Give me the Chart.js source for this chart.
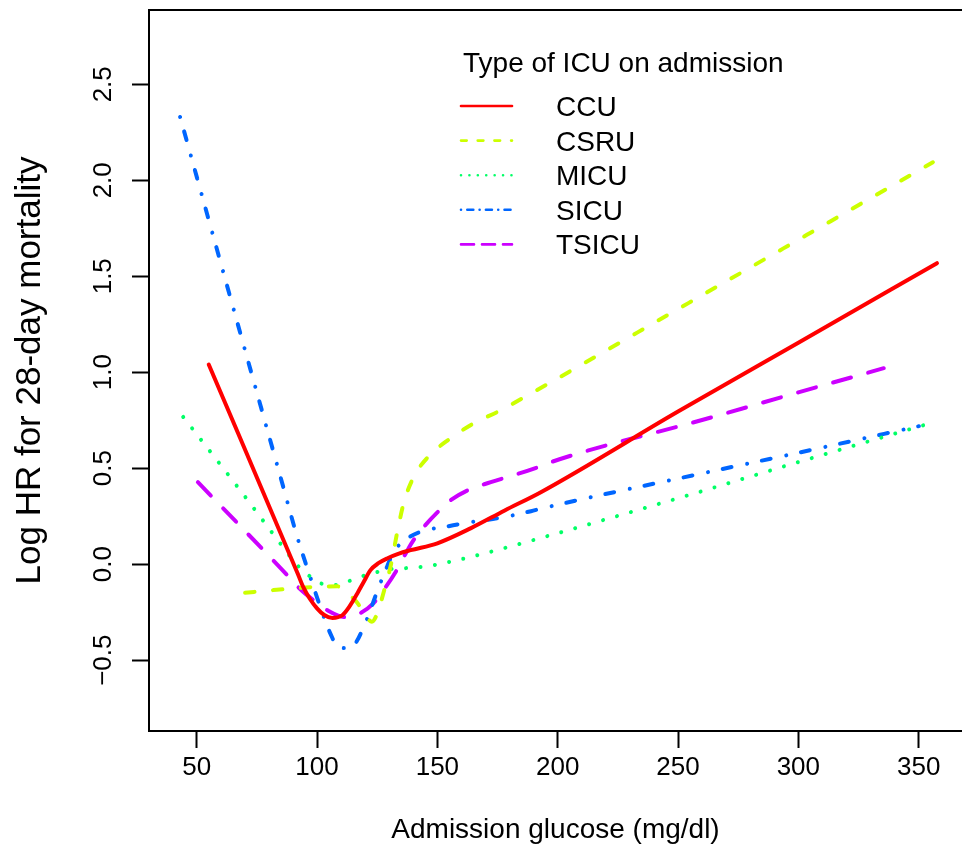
<!DOCTYPE html>
<html>
<head>
<meta charset="utf-8">
<title>Log HR for 28-day mortality by ICU type</title>
<script src="https://cdn.jsdelivr.net/npm/chart.js@4.4.1/dist/chart.umd.min.js"></script>
<style>
    html, body { margin: 0; padding: 0; background: #fff; overflow: hidden; }
    #wrap { position: relative; width: 962px; height: 848px; }
</style>
</head>
<body>
<div id="wrap"><canvas id="glucoseChart"></canvas></div>
<script>
// axis ticks
const xTicks = [50, 100, 150, 200, 250, 300, 350];
const yTicks = [-0.5, 0, 0.5, 1, 1.5, 2, 2.5];

// curves: glucose (mg/dl) and log HR
const ccuGlucose = [55, 92, 94.3, 97, 100, 103, 106.4, 110.5, 113.5, 116.8, 119.5, 122.2, 125.5, 129.3, 134, 138.9, 150, 164, 178, 193, 250, 300, 357.6];
const ccuLogHR   = [1.04, -0.05, -0.12, -0.18, -0.23, -0.265, -0.28, -0.266, -0.22, -0.151, -0.09, -0.031, 0.005, 0.031, 0.055, 0.073, 0.109, 0.188, 0.28, 0.375, 0.795, 1.154, 1.568];

const csruGlucose = [70.1, 81.8, 97.2, 108.5, 111, 116, 119, 122.8, 125.1, 127.6, 130.5, 133.5, 136, 140.1, 146, 155.5, 165.1, 176.4, 187.6, 197.2, 250, 300, 355.9];
const csruLogHR   = [-0.149, -0.135, -0.12, -0.115, -0.135, -0.19, -0.24, -0.30, -0.255, -0.15, -0.015, 0.177, 0.318, 0.453, 0.557, 0.656, 0.734, 0.802, 0.88, 0.948, 1.329, 1.69, 2.094];

const micuGlucose = [44.4, 66.8, 84.7, 91.8, 96.4, 101.4, 107.6, 113, 118.9, 124.7, 130.5, 136.4, 142.2, 148.5, 154.3, 160.1, 177.6, 189.7, 194.3, 258.5, 300, 356.4];
const micuLogHR   = [0.767, 0.406, 0.109, -0.005, -0.057, -0.099, -0.109, -0.089, -0.0625, -0.042, -0.026, -0.021, -0.016, -0.005, 0.01, 0.026, 0.083, 0.125, 0.141, 0.375, 0.532, 0.74];

const sicuGlucose = [43.1, 65.1, 86, 91.8, 97.2, 101.4, 105.5, 109.3, 114.7, 119.7, 125.5, 128.5, 131.8, 137.6, 145.1, 152.6, 161.4, 177.6, 188.9, 193.9, 258.5, 306.8, 350.1];
const sicuLogHR   = [2.33, 1.339, 0.401, 0.141, -0.068, -0.224, -0.36, -0.4375, -0.427, -0.318, -0.125, -0.031, 0.0625, 0.135, 0.177, 0.193, 0.214, 0.245, 0.276, 0.292, 0.469, 0.599, 0.719];

const tsicuGlucose = [50.5, 81.8, 87.6, 92.2, 98.5, 104.3, 111.8, 118, 123.5, 128.5, 132.6, 137.6, 140.1, 144.3, 150.1, 155.5, 162.6, 172.2, 191.8, 195.9, 262.6, 300, 335.5];
const tsicuLogHR   = [0.427, 0.02, -0.057, -0.12, -0.1875, -0.24, -0.276, -0.255, -0.203, -0.12, -0.042, 0.073, 0.125, 0.193, 0.271, 0.333, 0.385, 0.427, 0.505, 0.526, 0.76, 0.895, 1.021];

const icuTypes = ['CCU', 'CSRU', 'MICU', 'SICU', 'TSICU'];
const icuColors = ['#FF0000', '#CCFF00', '#00FF66', '#0066FF', '#CC00FF'];

const fontFamily = "'Liberation Sans', Arial, Helvetica, sans-serif";
Chart.defaults.font.family = fontFamily;
Chart.defaults.color = '#000';

function toPoints(xs, ys) {
    return xs.map((x, i) => ({ x: x, y: ys[i] }));
}

function curve(i, xs, ys, dash) {
    return {
        label: icuTypes[i],
        data: toPoints(xs, ys),
        borderColor: icuColors[i],
        backgroundColor: icuColors[i],
        borderWidth: 4,
        borderDash: dash,
        borderCapStyle: 'round',
        pointRadius: 0,
        fill: false,
        cubicInterpolationMode: 'monotone'
    };
}

// legend drawn like R's legend(): short line sample then label
const legendDash = [[], [5.7, 11], [0.01, 8.4], [0.01, 6.3, 6, 6.3], [13, 8]];
const icuLegend = {
    id: 'icuLegend',
    afterDatasetsDraw(chart) {
        const ctx = chart.ctx;
        ctx.save();
        ctx.font = '28px ' + fontFamily;
        ctx.fillStyle = '#000';
        ctx.textBaseline = 'alphabetic';
        ctx.fillText('Type of ICU on admission', 463, 72);
        chart.data.datasets.forEach((ds, i) => {
            const y = 106 + i * 34.6;
            ctx.strokeStyle = ds.borderColor;
            ctx.lineWidth = 2.6;
            ctx.lineCap = 'round';
            ctx.setLineDash(legendDash[i]);
            ctx.beginPath();
            ctx.moveTo(461, y);
            ctx.lineTo(512, y);
            ctx.stroke();
            ctx.setLineDash([]);
            ctx.fillText(ds.label, 556, y + 10);
        });
        ctx.restore();
    }
};

const axisLine = { display: true, color: '#000', width: 2 };
const tickMarks = { display: true, drawOnChartArea: false, drawTicks: true, tickLength: 17, tickWidth: 2, tickColor: '#000' };

const ctxGlucose = document.getElementById('glucoseChart').getContext('2d');
const glucoseChart = new Chart(ctxGlucose, {
    type: 'line',
    data: {
        datasets: [
            curve(0, ccuGlucose, ccuLogHR, []),
            curve(1, csruGlucose, csruLogHR, [9.5, 18.5]),
            curve(2, micuGlucose, micuLogHR, [0.01, 14.5]),
            curve(3, sicuGlucose, sicuLogHR, [0.01, 15, 9, 16]),
            curve(4, tsicuGlucose, tsicuLogHR, [18.6, 17.8])
        ]
    },
    options: {
        responsive: true,
        maintainAspectRatio: false,
        animation: false,
        layout: { padding: 0 },
        plugins: {
            legend: { display: false },
            tooltip: { enabled: false }
        },
        scales: {
            x: {
                type: 'linear',
                position: 'bottom',
                min: 30.18,
                max: 368,
                afterBuildTicks: s => { s.ticks = xTicks.map(v => ({ value: v })); },
                afterFit: s => { s.height = 117; s.paddingLeft = 0; s.paddingRight = 0; },
                grid: tickMarks,
                border: axisLine,
                ticks: { font: { size: 26 }, color: '#000', padding: 4, maxRotation: 0, autoSkip: false },
                title: { display: true, text: 'Admission glucose (mg/dl)', font: { size: 28 }, color: '#000', padding: { top: 0, bottom: 1 } }
            },
            xTop: {
                type: 'linear',
                position: 'top',
                min: 30.18,
                max: 368,
                afterFit: s => { s.height = 10; s.paddingLeft = 0; s.paddingRight = 0; },
                grid: { display: false },
                border: axisLine,
                ticks: { display: false }
            },
            y: {
                type: 'linear',
                position: 'left',
                min: -0.869,
                max: 2.887,
                afterBuildTicks: s => { s.ticks = yTicks.map(v => ({ value: v })); },
                afterFit: s => { s.width = 149; s.paddingTop = 0; s.paddingBottom = 0; },
                grid: tickMarks,
                border: axisLine,
                ticks: {
                    font: { size: 26 },
                    color: '#000',
                    padding: 3,
                    minRotation: 90,
                    maxRotation: 90,
                    crossAlign: 'center',
                    autoSkip: false,
                    callback: v => v.toFixed(1).replace('-', '\u2212')
                },
                title: { display: true, text: 'Log HR for 28-day mortality', font: { size: 35 }, color: '#000', padding: { top: 9, bottom: 0 } }
            }
        }
    },
    plugins: [icuLegend]
});
</script>
</body>
</html>
